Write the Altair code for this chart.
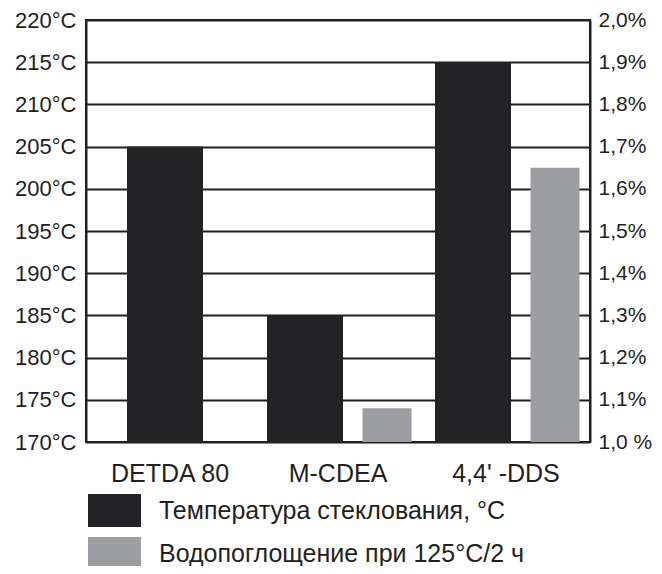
import altair as alt
import pandas as pd

categories = ["DETDA 80", "M-CDEA", "4,4' -DDS"]
tg_values = [205, 185, 215]
water_values = [None, 1.08, 1.65]
tg_ticks = [170, 175, 180, 185, 190, 195, 200, 205, 210, 215, 220]
water_ticks = [1.0, 1.1, 1.2, 1.3, 1.4, 1.5, 1.6, 1.7, 1.8, 1.9, 2.0]
series_names = ["Температура стеклования, °C", "Водопоглощение при 125°C/2 ч"]
series_colors = ["#232325", "#9d9ea2"]

df = pd.DataFrame({"cat": categories, "tg": tg_values, "water": water_values})

INK = "#231f20"
FONT = "Liberation Sans"
W, H = 504, 422
STEP = W / 3.0
HALF_BAND = 0.9 * STEP / 2

x_enc = alt.X(
    "cat:N",
    sort=categories,
    scale=alt.Scale(paddingInner=0.1, paddingOuter=0.05),
    axis=alt.Axis(title=None, labelAngle=0, labelFontSize=25, labelPadding=19,
                  ticks=False, domain=False, labelColor=INK, labelFont=FONT),
)

color_scale = alt.Scale(domain=series_names, range=series_colors)
legend = alt.Legend(
    title=None, orient="none", legendX=2, legendY=464, direction="vertical",
    symbolType="M-1,-0.62H1V0.62H-1Z", symbolSize=2809, symbolStrokeWidth=0,
    symbolOpacity=1, labelFontSize=25, labelFont=FONT, labelColor=INK,
    labelOffset=18, rowPadding=0, padding=0, offset=0, labelLimit=600,
)

y_tg = alt.Y(
    "tg:Q",
    scale=alt.Scale(domain=[tg_ticks[0], tg_ticks[-1]], nice=False, zero=False),
    axis=alt.Axis(title=None, values=tg_ticks, labelExpr="datum.value + '°C'",
                  grid=True, gridColor=INK, gridWidth=1.8, gridOpacity=1,
                  ticks=False, domainColor=INK, domainWidth=2,
                  labelFontSize=22, labelFont=FONT, labelColor=INK, labelPadding=10),
)

dark_color = alt.Color("s:N", scale=color_scale, legend=legend)

dark_single = (
    alt.Chart(df)
    .transform_filter("datum.water == null")
    .transform_calculate(s=f"'{series_names[0]}'")
    .mark_bar(width=76)
    .encode(x=x_enc, y=y_tg, y2=alt.datum(tg_ticks[0]), color=dark_color,
            xOffset=alt.value(HALF_BAND - 5))
)
dark_pair = (
    alt.Chart(df)
    .transform_filter("datum.water != null")
    .transform_calculate(s=f"'{series_names[0]}'")
    .mark_bar(width=76)
    .encode(x=x_enc, y=y_tg, y2=alt.datum(tg_ticks[0]), color=dark_color,
            xOffset=alt.value(HALF_BAND - 33))
)

gray = (
    alt.Chart(df)
    .transform_filter("datum.water != null")
    .transform_calculate(s=f"'{series_names[1]}'")
    .mark_bar(width=49)
    .encode(
        x=x_enc,
        y=alt.Y(
            "water:Q",
            scale=alt.Scale(domain=[water_ticks[0], water_ticks[-1]], nice=False, zero=False),
            axis=alt.Axis(title=None, orient="right", values=water_ticks,
                          labelExpr="datum.value == 1 ? '1,0 %' : replace(format(datum.value, '.1f'), '.', ',') + '%'",
                          grid=False, ticks=False, domainColor=INK, domainWidth=2,
                          labelFontSize=21, labelFont=FONT, labelColor=INK, labelPadding=8),
        ),
        y2=alt.datum(water_ticks[0]),
        color=alt.Color("s:N", scale=color_scale, legend=legend),
        xOffset=alt.value(HALF_BAND + 49),
    )
)

chart = (
    alt.layer(alt.layer(dark_single, dark_pair), gray)
    .resolve_scale(y="independent")
    .properties(
        width=W, height=H,
        autosize=alt.AutoSizeParams(type="none"),
        padding={"left": 78, "top": 12, "right": 64, "bottom": 124},
        background="white",
    )
    .configure_view(stroke=INK, strokeWidth=2)
)

chart.save("out.html", embed_options={"renderer": "svg", "actions": False})
